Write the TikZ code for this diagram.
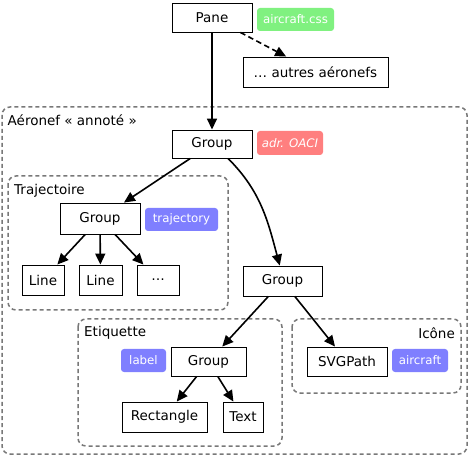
\documentclass[tikz,border=0pt]{standalone}
\usepackage{fontspec}
\setmainfont{DejaVu Sans}
\usetikzlibrary{arrows.meta,shadows}

\newlength{\du}
\setlength{\du}{1\unitlength}

\definecolor{zonecolor}{rgb}{0.470588, 0.470588, 0.470588}
\definecolor{cssgreen}{rgb}{0.500000, 0.945098, 0.500000}
\definecolor{oacired}{rgb}{1.000000, 0.498039, 0.498039}
\definecolor{classblue}{rgb}{0.498039, 0.498039, 1.000000}

\tikzset{
  objbox/.style={draw=black, line width=0.9\du, fill=white, inner sep=0pt,
    drop shadow={shadow xshift=1.2\du, shadow yshift=-1.2\du, opacity=0.25},
    font=\fontsize{13.5}{15}\selectfont},
  tagbox/.style={rounded corners=3\du, text=white, inner sep=0pt,
    font=\fontsize{11.8}{13}\selectfont},
  zone/.style={draw=zonecolor, line width=1.5\du, dash pattern=on 4\du off 3\du,
    rounded corners=8\du},
  zonelabel/.style={inner sep=0pt, font=\fontsize{13.5}{15}\selectfont},
  edge/.style={line width=1.6\du, -{Triangle[length=11pt,width=10pt]}},
  weakedge/.style={edge, dash pattern=on 5.5\du off 3.5\du},
}

\begin{document}
\begin{tikzpicture}
\pgftransformxscale{1.000000}
\pgftransformyscale{-1.000000}
\useasboundingbox (0\du,0\du) rectangle (469\du,457\du);
% zones
\draw[zone] (2.000000\du,107.000000\du) rectangle (467.000000\du,454.000000\du);
\draw[zone] (8.000000\du,176.000000\du) rectangle (228.000000\du,310.000000\du);
\draw[zone] (78.000000\du,319.000000\du) rectangle (282.000000\du,446.000000\du);
\draw[zone] (292.000000\du,319.000000\du) rectangle (461.000000\du,393.000000\du);
\node[zonelabel, anchor=west] (lblAeronef) at (7.500000\du,120.500000\du) {Aéronef «~annoté~»};
\node[zonelabel, anchor=west] (lblTraj) at (14.000000\du,190.500000\du) {Trajectoire};
\node[zonelabel, anchor=west] (lblEtiq) at (84.000000\du,333.000000\du) {Etiquette};
\node[zonelabel, anchor=east] (lblIcone) at (455.000000\du,333.000000\du) {Icône};
% objects
\node[objbox, minimum width=80\du, minimum height=29\du] (pane) at (212.000000\du,17.500000\du) {Pane};
\node[objbox, minimum width=145\du, minimum height=30\du] (autres) at (315.500000\du,72.000000\du) {… autres aéronefs};
\node[objbox, minimum width=80\du, minimum height=28\du] (grpAeronef) at (212.000000\du,144.000000\du) {Group};
\node[objbox, minimum width=80\du, minimum height=31\du] (grpTraj) at (100.000000\du,218.500000\du) {Group};
\node[objbox, minimum width=42\du, minimum height=30\du] (lineA) at (43.000000\du,280.000000\du) {Line};
\node[objbox, minimum width=43\du, minimum height=30\du] (lineB) at (100.500000\du,280.000000\du) {Line};
\node[objbox, minimum width=42\du, minimum height=30\du] (lineEtc) at (158.000000\du,280.000000\du) {…};
\node[objbox, minimum width=79\du, minimum height=30\du] (grpSymbole) at (282.500000\du,281.000000\du) {Group};
\node[objbox, minimum width=75\du, minimum height=29\du] (grpEtiq) at (208.500000\du,361.500000\du) {Group};
\node[objbox, minimum width=85\du, minimum height=30\du] (rect) at (164.500000\du,417.000000\du) {Rectangle};
\node[objbox, minimum width=40\du, minimum height=30\du] (texte) at (243.000000\du,417.000000\du) {Text};
\node[objbox, minimum width=80\du, minimum height=29\du] (svgpath) at (347.000000\du,361.500000\du) {SVGPath};
% tags
\node[tagbox, fill=cssgreen, minimum width=77\du, minimum height=23\du] (tagCss) at (295.500000\du,19.500000\du) {aircraft.css};
\node[tagbox, fill=oacired, minimum width=66\du, minimum height=24\du] (tagOaci) at (290.000000\du,143.000000\du) {\itshape adr. OACI};
\node[tagbox, fill=classblue, minimum width=73\du, minimum height=23\du] (tagTraj) at (181.500000\du,219.500000\du) {trajectory};
\node[tagbox, fill=classblue, minimum width=45\du, minimum height=23\du] (tagLabel) at (143.500000\du,360.500000\du) {label};
\node[tagbox, fill=classblue, minimum width=56\du, minimum height=23\du] (tagAircraft) at (420.000000\du,360.500000\du) {aircraft};
% edges
\draw[edge] (pane) -- (grpAeronef);
\draw[weakedge] (pane) -- (autres);
\draw[edge] (grpAeronef) -- (grpTraj);
\draw[edge] (grpAeronef.-42) to[out=45,in=-105] (grpSymbole.100);
\draw[edge] (grpTraj) -- (lineA);
\draw[edge] (grpTraj) -- (lineB);
\draw[edge] (grpTraj) -- (lineEtc);
\draw[edge] (grpSymbole) -- (grpEtiq);
\draw[edge] (grpSymbole) -- (svgpath);
\draw[edge] (grpEtiq) -- (rect);
\draw[edge] (grpEtiq) -- (texte);
\end{tikzpicture}
\end{document}
